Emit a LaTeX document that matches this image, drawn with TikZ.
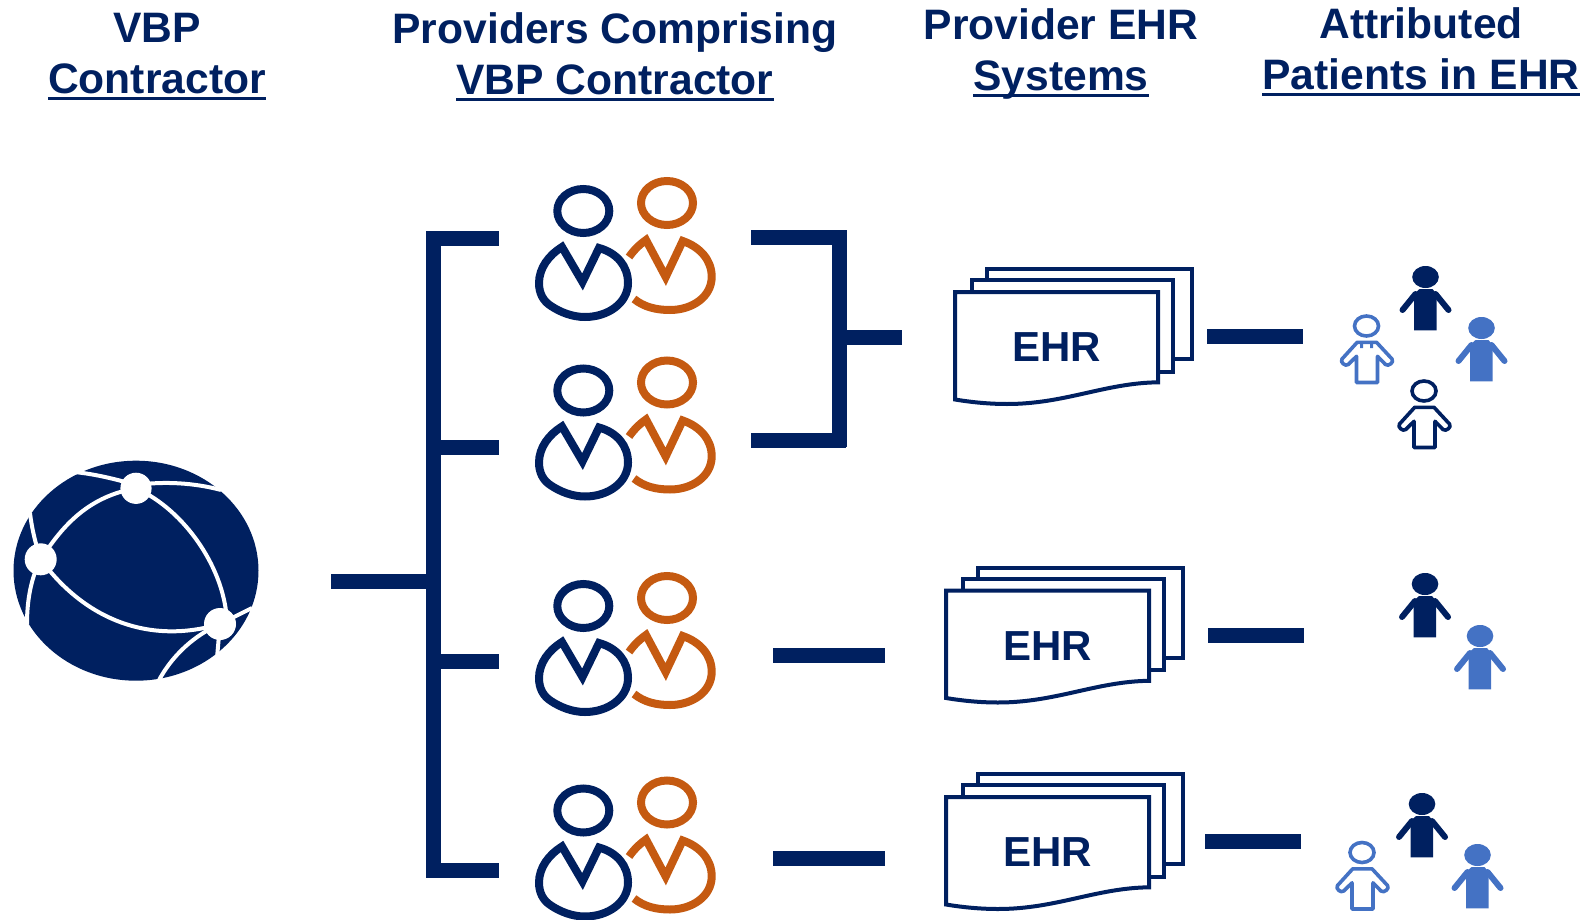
\documentclass[tikz,border=0pt]{standalone}
\usepackage{fontspec}
\setmainfont{Liberation Sans}
\definecolor{navy}{HTML}{002060}
\definecolor{rust}{HTML}{C55A11}
\definecolor{lightb}{HTML}{4472C4}
\newcommand\hul[1]{\setbox0=\hbox{#1}\rlap{\rule[-6.5pt]{\wd0}{2.8pt}}\box0 }
\tikzset{
  bar/.style={draw=navy,line width=15pt},
  heading/.style={font=\fontsize{42.6}{51}\selectfont\bfseries,text=navy,align=center,inner sep=0pt},
  ehrlabel/.style={font=\fontsize{42}{50}\selectfont\bfseries,text=navy,inner sep=0pt},
  pair/.pic={
    \draw[navy,line width=8pt] (73.3,51) ellipse [x radius=26pt,y radius=22pt];
    \draw[navy,line width=8pt,line join=miter,miter limit=3] (52,87) -- (72.5,122) -- (89,88)
      .. controls (107,93) and (118,106) .. (118,123)
      .. controls (118,143) and (98,157) .. (75,157)
      .. controls (62,157) and (50,152) .. (41,146)
      .. controls (33,141) and (29,133) .. (29,123)
      .. controls (29,108) and (39,95) .. (52,87) -- cycle;
    \draw[rust,line width=8pt] (157,43) ellipse [x radius=26pt,y radius=22pt];
    \draw[rust,line width=8pt,line join=miter,miter limit=3] (119,97) .. controls (124,90) and (129,85) .. (136,80)
      -- (155.7,117) -- (172.7,81)
      .. controls (190,87) and (201.7,100) .. (201.7,116.7)
      .. controls (201.7,137) and (182,150) .. (160,150)
      .. controls (146,150) and (134,147) .. (124,139);
  },
  ehrstack/.pic={
    \draw[navy,line width=4pt,miter limit=4] (47.3,24) -- (47.3,14) -- (251.7,14) -- (251.7,104.3) -- (235,104.3);
    \draw[navy,line width=4pt] (31.7,36) -- (31.7,25) -- (233.3,25) -- (233.3,116.7) -- (220,116.7);
    \draw[navy,line width=4pt,fill=white] (15,37) -- (218,37) -- (218,127.3)
      .. controls (165,128) and (125,149) .. (67,149)
      .. controls (48,149) and (30,147) .. (15,144.5) -- cycle;
    \node[ehrlabel] (-label) at (116.7,92.5) {EHR};
  },
  personsolid/.pic={
    \fill[pic actions] (0,0) ellipse [x radius=13.3pt,y radius=11pt];
    \fill[pic actions] (-11.3,53.3) -- (-11.3,17) -- (-6,12) -- (7,12) -- (11,17) -- (11,53.3) -- cycle;
    \draw[pic actions,line width=6pt,line cap=round] (-10,17) -- (-23,33);
    \draw[pic actions,line width=6pt,line cap=round] (10,17) -- (23,33);
  },
  personline/.pic={
    \draw[pic actions,line width=3.6pt] (0,0) ellipse [x radius=12pt,y radius=10pt];
    \draw[pic actions,line width=3.6pt,line join=round] (-10,56.5) -- (-10,30.3) -- (-18.3,38.5)
      .. controls (-21,41) and (-27,36) .. (-24.5,33) -- (-9.3,16.3) -- (10,16.3) -- (25.5,33)
      .. controls (28,36) and (22,41) .. (19,38.5) -- (11,30.3) -- (11,56.5) -- cycle;
  },
}
\begin{document}
\begin{tikzpicture}[x=1pt,y=-1pt]
\useasboundingbox (0,0) rectangle (1581,920);

% headings
\node[heading] (h1) at (157,56.5) {VBP\\\hul{Contractor}};
\node[heading] (h2) at (615,57) {Providers Comprising\\\hul{VBP Contractor}};
\node[heading] (h3) at (1061,54) {Provider EHR\\\hul{Systems}};
\node[heading] (h4) at (1421,51.5) {Attributed\\\hul{Patients in EHR}};

% globe
\fill[navy] (136,570.7) ellipse [x radius=122.5pt,y radius=110pt];
\begin{scope}[white,line width=4pt]
  \draw (136,488.3) .. controls (85,497) and (60,530) .. (40.7,559.3);
  \draw (136,488.3) .. controls (185,510) and (226,570) .. (227,624);
  \draw (40.7,559.3) .. controls (85,620) and (150,645) .. (220,624);
  \draw (74,472) .. controls (95,474) and (115,479) .. (136,485);
  \draw (136,485) .. controls (165,481) and (195,483) .. (221,490);
  \draw (30,513) .. controls (32,530) and (36,545) .. (40.7,559.3);
  \draw (40.7,559.3) .. controls (31,578) and (27,600) .. (27,624);
  \draw (220,624) -- (252,608);
  \draw (220,624) -- (217,658);
  \draw (220,624) .. controls (195,635) and (172,655) .. (158,682);
  \fill (136,488.3) circle[radius=15.6pt];
  \fill (40.7,559.3) circle[radius=16pt];
  \fill (220,624) circle[radius=16pt];
\end{scope}
\coordinate (globeR) at (331,581);

% provider pairs
\pic (p1) at (510,160) {pair};
\pic (p2) at (510,339.5) {pair};
\pic (p3) at (510,555) {pair};
\pic (p4) at (510,759.5) {pair};

% left tree
\coordinate (trunkT) at (433,231);
\coordinate (trunkB) at (433,877);
\coordinate (tj) at (433,581);
\coordinate (b1L) at (426,238); \coordinate (b1R) at (499,238);
\coordinate (b2L) at (433,447); \coordinate (b2R) at (499,447);
\coordinate (b3L) at (433,661); \coordinate (b3R) at (499,661);
\coordinate (b4L) at (426,870); \coordinate (b4R) at (499,870);
\draw[bar] (trunkT) -- (trunkB);
\draw[bar] (globeR) -- (tj);
\draw[bar] (b1L) -- (b1R);
\draw[bar] (b2L) -- (b2R);
\draw[bar] (b3L) -- (b3R);
\draw[bar] (b4L) -- (b4R);

% right bracket
\coordinate (r1L) at (751,237); \coordinate (r1R) at (846,237);
\coordinate (r2L) at (751,440); \coordinate (r2R) at (846,440);
\coordinate (rT) at (839,230); \coordinate (rB) at (839,447);
\coordinate (rM) at (839,337); \coordinate (rE) at (902,337);
\draw[bar] (r1L) -- (r1R);
\draw[bar] (r2L) -- (r2R);
\draw[bar] (rT) -- (rB);
\draw[bar] (rM) -- (rE);

% dashes
\coordinate (d3L) at (773,655); \coordinate (d3R) at (885,655);
\coordinate (d4L) at (773,858); \coordinate (d4R) at (885,858);
\draw[bar] (d3L) -- (d3R);
\draw[bar] (d4L) -- (d4R);

% EHR stacks
\pic (e1) at (940,255) {ehrstack};
\pic (e2) at (931,553.5) {ehrstack};
\pic (e3) at (931,760) {ehrstack};

% EHR to patients
\coordinate (f1L) at (1207,336.5); \coordinate (f1R) at (1303,336.5);
\coordinate (f2L) at (1208,635); \coordinate (f2R) at (1304,635);
\coordinate (f3L) at (1205,841); \coordinate (f3R) at (1301,841);
\draw[bar] (f1L) -- (f1R);
\draw[bar] (f2L) -- (f2R);
\draw[bar] (f3L) -- (f3R);

% patients
\pic[navy] (q1) at (1425.5,277) {personsolid};
\pic[lightb] (q2) at (1481.5,328) {personsolid};
\pic[lightb] (q3) at (1366.5,326) {personline};
\fill[lightb] (1360,343) rectangle (1363,348) (1370,343) rectangle (1373,348);
\pic[navy] (q4) at (1424,391) {personline};

\pic[navy] (q5) at (1425,584) {personsolid};
\pic[lightb] (q6) at (1480,636) {personsolid};

\pic[navy] (q7) at (1422,804) {personsolid};
\pic[lightb] (q8) at (1477.5,855) {personsolid};
\pic[lightb] (q9) at (1362,852.5) {personline};
\end{tikzpicture}
\end{document}
